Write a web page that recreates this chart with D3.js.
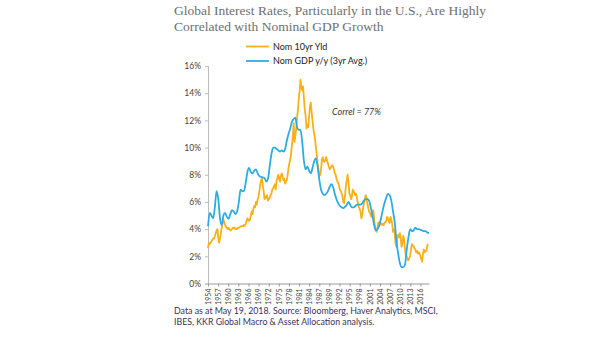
<!DOCTYPE html>
<html>
<head>
<meta charset="utf-8">
<script src="https://cdn.jsdelivr.net/npm/d3@7"></script>
<style>
  body { margin: 0; background: #fff; }
  svg { display: block; }
</style>
</head>
<body>
<svg id="chart" width="605" height="341"></svg>
<script>
// US 10-year Treasury yield, quarterly from Q1 1954 (%)
const yieldStart = 1954;
const yieldStep = 0.25;
const yield10 = [
  2.6, 3.0, 2.9, 3.0,   3.1, 3.2, 3.3, 3.3,   3.5, 3.7, 3.9, 4.0,   3.4, 3.0, 3.3, 3.7,
  4.1, 4.4, 4.7, 4.5,   4.3, 4.2, 4.1, 4.0,   4.1, 4.0, 3.9, 3.95,  4.0, 4.1, 4.05, 4.1,
  4.0, 4.05, 4.0, 4.1,  4.1, 4.15, 4.2, 4.2,  4.25, 4.2, 4.3, 4.25,  4.4, 4.6, 4.8, 4.7,
  4.6, 4.7, 5.0, 5.3,   5.1, 5.5, 5.7, 5.6,   6.0, 5.8, 6.2, 6.4,   6.8, 7.3, 7.6, 7.75,
  7.2, 6.8, 6.2, 6.4,   6.3, 6.5, 6.1, 6.2,   6.3, 6.5, 6.6, 6.9,   7.0, 7.15, 7.3, 6.9,
  7.5, 7.75, 8.0, 7.7,  7.5, 7.9, 8.1, 7.9,   7.6, 7.7, 7.35, 7.5,  7.6, 8.0, 8.5, 8.85,
  9.1, 9.6, 10.2, 10.8, 11.8, 10.4, 10.9, 11.4, 12.2, 12.8, 13.6, 14.2, 15.0, 14.4, 14.2, 14.5,
  13.6, 12.8, 12.3, 11.4, 11.7, 11.5, 12.3, 13.0, 13.3, 12.6, 12.0, 11.4, 11.0, 10.6, 10.0, 9.5,
  8.8, 8.4, 7.9, 8.0,   8.4, 9.1, 9.3, 9.0,   8.95, 9.1, 9.3, 9.0,  8.85, 8.6, 8.4, 8.5,
  8.6, 8.7, 8.6, 8.4,   8.1, 8.0, 7.7, 7.5,   7.4, 7.2, 6.9, 6.8,   6.65, 6.4, 6.0, 5.9,
  6.5, 7.2, 7.6, 8.0,   7.4, 6.65, 6.5, 6.2,  6.4, 6.9, 6.8, 6.65,  6.5, 6.6, 6.2, 5.9,
  5.6, 5.5, 5.3, 4.8,   5.0, 5.5, 5.9, 6.1,   6.5, 6.3, 5.9, 5.6,   5.3, 5.2, 5.0, 4.9,
  5.1, 5.4, 4.7, 4.1,   3.95, 3.8, 4.2, 4.5,  4.2, 4.5, 4.4, 4.3,   4.4, 4.3, 4.45, 4.5,
  4.6, 4.9, 4.8, 4.6,   4.45, 4.9, 4.7, 4.4,  3.8, 4.0, 3.7, 2.9,   2.7, 3.3, 3.6, 3.4,
  3.7, 3.3, 2.7, 3.0,   3.5, 3.2, 2.5, 2.0,   2.0, 1.75, 1.7, 1.9,  2.0, 2.5, 2.9, 2.8,
  2.75, 2.6, 2.5, 2.3,  2.4, 2.2, 2.3, 2.2,   2.0, 1.8, 1.6, 2.2,   2.5, 2.3, 2.4, 2.4,
  2.8, 2.9
];

// Nominal GDP growth y/y, 3-year average, half-yearly from 1954 (%)
const gdpStart = 1954;
const gdpStep = 0.5;
const gdp3yr = [
  4.2, 5.2, 5.0, 4.8, 5.6, 6.8, 6.2, 4.8, 4.3, 5.0, 5.2, 4.9, 4.75, 5.1, 5.4, 5.3,
  5.1, 5.3, 6.0, 6.9, 6.8, 6.8, 7.4, 8.2, 8.5, 8.2, 8.1, 8.3, 8.4, 8.1, 7.9, 7.85,
  7.8, 7.75, 7.5, 7.7, 8.6, 9.5, 10.0, 10.0, 9.9, 9.8, 9.7, 9.8, 9.7, 9.9, 10.5, 11.0,
  11.4, 11.9, 12.1, 12.2, 11.5, 11.3, 11.3, 10.4, 9.0, 8.4, 8.6, 8.3, 8.1, 8.5, 9.0, 9.2,
  8.6, 7.6, 6.9, 6.6, 6.5, 6.6, 6.8, 7.1, 7.3, 7.1, 6.6, 6.2, 5.9, 5.7, 5.6, 5.55,
  5.65, 5.8, 6.0, 5.8, 5.6, 5.6, 5.7, 5.8, 5.8, 5.8, 5.9, 6.1, 6.2, 6.2, 6.1, 5.6,
  5.0, 4.3, 3.9, 4.0, 4.3, 4.8, 5.4, 5.9, 6.3, 6.6, 6.5, 6.1, 5.3, 4.5, 3.1, 2.2,
  1.5, 1.2, 1.2, 1.4, 2.5, 3.4, 4.0, 3.85, 3.9, 4.1, 4.0, 4.0, 3.95, 3.9, 3.85, 3.85,
  3.75, 3.7
];

const xTickLabels = ["1954", "1957", "1960", "1963", "1966", "1969", "1972", "1975",
  "1978", "1981", "1984", "1987", "1989", "1992", "1995", "1998", "2001", "2004",
  "2007", "2010", "2013", "2016"];
const yTicks = [0, 2, 4, 6, 8, 10, 12, 14, 16];

const titleLines = [
  "Global Interest Rates, Particularly in the U.S., Are Highly",
  "Correlated with Nominal GDP Growth"
];
const footLines = [
  "Data as at May 19, 2018. Source: Bloomberg, Haver Analytics, MSCI,",
  "IBES, KKR Global Macro & Asset Allocation analysis."
];
const seriesNames = ["Nom 10yr Yld", "Nom GDP y/y (3yr Avg.)"];
const correlText = "Correl = 77%";

const colors = { yield: "#FBB017", gdp: "#2BADE4" };

const svg = d3.select("#chart");

const x = d3.scaleLinear().domain([1954, 2018.5]).range([208, 429]);
const y = d3.scaleLinear().domain([0, 16]).range([283.5, 66]);

// Title
svg.append("g")
  .selectAll("text")
  .data(titleLines)
  .join("text")
  .attr("x", 174)
  .attr("y", (d, i) => 15 + i * 16)
  .attr("font-family", "Liberation Serif, serif")
  .attr("font-size", 13.5)
  .attr("fill", "#707070")
  .text(d => d);

// Y axis
const yAxis = svg.append("g")
  .attr("transform", `translate(${x.range()[0]},0)`)
  .call(d3.axisLeft(y).tickValues(yTicks).tickFormat(d => d + "%").tickSize(3).tickPadding(4));
yAxis.select(".domain").attr("stroke", "#bdbdbd");
yAxis.selectAll(".tick line").attr("stroke", "#bdbdbd");
yAxis.selectAll("text")
  .attr("font-family", "Lato, sans-serif")
  .attr("font-size", 8.5)
  .attr("fill", "#444");

// X axis: labels spread evenly from the first to the last label year
const firstYear = +xTickLabels[0];
const lastYear = +xTickLabels[xTickLabels.length - 1];
const tickPos = xTickLabels.map((d, i) => firstYear + i * (lastYear - firstYear) / (xTickLabels.length - 1));
const xAxis = svg.append("g")
  .attr("transform", `translate(0,${y(0)})`)
  .call(d3.axisBottom(x).tickValues(tickPos).tickFormat((d, i) => xTickLabels[i]).tickSize(3).tickSizeOuter(0));
xAxis.select(".domain").attr("stroke", "#9a9a9a");
xAxis.selectAll(".tick line").attr("stroke", "#9a9a9a");
xAxis.selectAll("text")
  .attr("font-family", "Lato, sans-serif")
  .attr("font-size", 7)
  .attr("fill", "#444")
  .attr("text-anchor", "end")
  .attr("transform", "rotate(-90)")
  .attr("x", -5)
  .attr("y", 0)
  .attr("dy", "0.32em");

// Lines
const yieldPts = yield10.map((v, i) => [yieldStart + i * yieldStep, v]);
const gdpPts = gdp3yr.map((v, i) => [gdpStart + i * gdpStep, v]);

svg.append("path")
  .datum(yieldPts)
  .attr("fill", "none")
  .attr("stroke", colors.yield)
  .attr("stroke-width", 1.8)
  .attr("stroke-linejoin", "round")
  .attr("d", d3.line().x(d => x(d[0])).y(d => y(d[1])));

svg.append("path")
  .datum(gdpPts)
  .attr("fill", "none")
  .attr("stroke", colors.gdp)
  .attr("stroke-width", 1.8)
  .attr("stroke-linejoin", "round")
  .attr("d", d3.line().x(d => x(d[0])).y(d => y(d[1])).curve(d3.curveMonotoneX));

// Legend
const legend = svg.append("g");
const legendItems = [
  { name: seriesNames[0], color: colors.yield, yPos: 46.5 },
  { name: seriesNames[1], color: colors.gdp, yPos: 61 }
];
legendItems.forEach(item => {
  legend.append("line")
    .attr("x1", 246).attr("x2", 269)
    .attr("y1", item.yPos).attr("y2", item.yPos)
    .attr("stroke", item.color).attr("stroke-width", 1.8);
  legend.append("text")
    .attr("x", 273).attr("y", item.yPos)
    .attr("dy", "0.35em")
    .attr("font-family", "Lato, sans-serif")
    .attr("font-size", 9)
    .attr("fill", "#222")
    .text(item.name);
});

// Correlation note
svg.append("text")
  .attr("x", 332).attr("y", 114.5)
  .attr("font-family", "Lato, sans-serif")
  .attr("font-style", "italic")
  .attr("font-size", 9)
  .attr("fill", "#333")
  .text(correlText);

// Source note
svg.append("g")
  .selectAll("text")
  .data(footLines)
  .join("text")
  .attr("x", 174)
  .attr("y", (d, i) => 314 + i * 11)
  .attr("font-family", "Lato, sans-serif")
  .attr("font-size", 8.8)
  .attr("fill", "#3a2f5e")
  .text(d => d);
</script>
</body>
</html>
